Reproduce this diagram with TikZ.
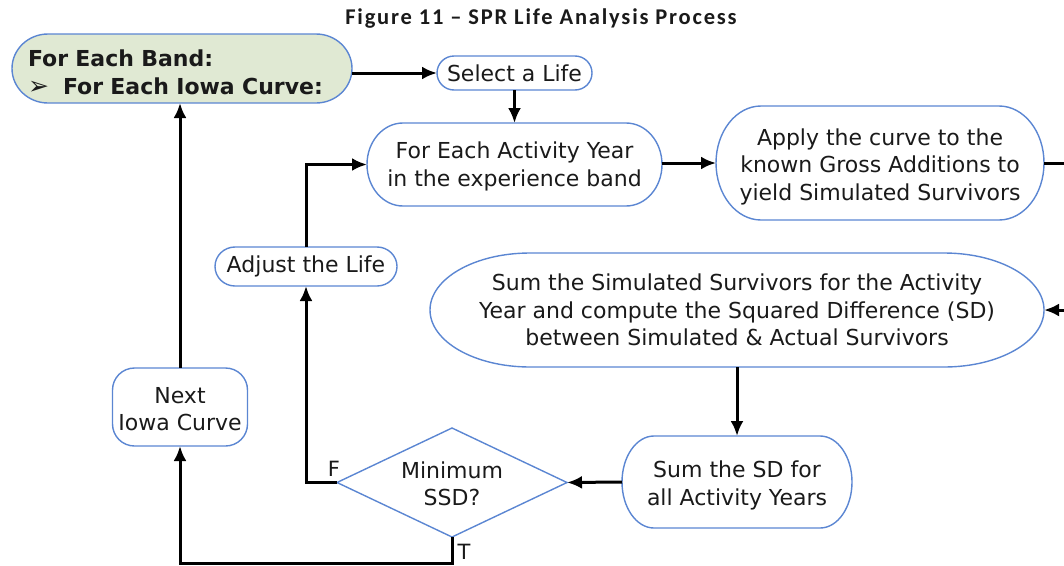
\documentclass[tikz,border=0pt]{standalone}
\usepackage{fontspec}
\setmainfont{DejaVu Sans}
\newfontfamily\titlefont[LetterSpace=8]{Carlito}
\usetikzlibrary{arrows.meta,shapes.geometric,backgrounds}
\definecolor{bord}{HTML}{5B86D2}
\definecolor{bandfill}{HTML}{E0E9D3}
\definecolor{txt}{HTML}{1A1A1A}
\newcommand\ovl[4][]{%
  \draw[shp,#1] ([xshift=#3]#2.north west) -- ([xshift=-#3]#2.north east)
    arc[start angle=90,end angle=-90,x radius=#3,y radius=#4]
    -- ([xshift=#3]#2.south west)
    arc[start angle=270,end angle=90,x radius=#3,y radius=#4] -- cycle;}
\newcommand\up[1]{\rule{0pt}{#1}}
\begin{document}
\begin{tikzpicture}[x=1pt,y=1pt,
  shp/.style={draw=bord, line width=1.4pt},
  box/.style={inner sep=0pt, outer sep=0pt, align=center, text=txt,
    font=\fontsize{22}{27.5}\selectfont},
  conn/.style={line width=3pt, black},
  arr/.style={conn, -{Latex[length=15pt,width=13pt]}},
  lbl/.style={text=txt, font=\fontsize{21}{21}\selectfont, inner sep=0pt, anchor=base}]
\useasboundingbox (0,0) rectangle (1064,-565);
\node[font=\titlefont\bfseries\fontsize{22.5}{24}\selectfont, text=txt] (title) at (541,-19) {Figure 11 – SPR Life Analysis Process};

\node[box, align=left, text width=308pt, inner xsep=16pt, minimum height=69pt,
  font=\bfseries\fontsize{22}{28}\selectfont] (band) at (182,-68.5)
  {\up{25pt}For Each Band:\\\makebox[35pt][l]{\fontsize{25}{25}\selectfont ➢}For Each Iowa Curve:};
\node[box, minimum width=155pt, minimum height=34pt] (sel) at (514.5,-73) {Select a Life};
\node[box, minimum width=295pt, minimum height=83pt] (fe) at (514.5,-164.5) {\up{21pt}For Each Activity Year\\in the experience band};
\node[box, minimum width=328pt, minimum height=114pt] (app) at (880,-163) {\up{24pt}Apply the curve to the\\known Gross Additions to\\yield Simulated Survivors};
\node[box, minimum width=614pt, minimum height=114pt] (sum) at (737,-310) {Sum the Simulated Survivors for the Activity\\Year and compute the Squared Difference (SD)\\between Simulated \& Actual Survivors};
\node[box, minimum width=182pt, minimum height=39pt] (adj) at (306,-266.5) {Adjust the Life};
\node[box, draw=bord, line width=1.4pt, rounded corners=22pt, minimum width=135pt, minimum height=78pt] (next) at (180,-407) {\up{20pt}Next\\Iowa Curve};
\node[box, diamond, draw=bord, line width=1.4pt, aspect=2.1, minimum width=230pt, minimum height=109pt] (dia) at (452,-482.5) {\up{19pt}Minimum\\SSD?};
\node[box, minimum width=230pt, minimum height=92pt] (ssd) at (737,-482) {\up{24pt}Sum the SD for\\all Activity Years};

\begin{scope}[on background layer]
\ovl[fill=bandfill]{band}{36pt}{34.5pt}
\ovl{sel}{17pt}{17pt}
\ovl{fe}{36pt}{41.5pt}
\ovl{app}{45pt}{57pt}
\ovl{sum}{100pt}{57pt}
\ovl{adj}{20pt}{19.5pt}
\ovl{ssd}{32pt}{46pt}
\end{scope}

\coordinate (r1) at (1064,-163);
\coordinate (r2) at (1064,-310);
\coordinate (bot) at (452,-563);

\draw[arr] (band.east |- sel.west) -- (sel.west);
\draw[arr] (sel.south) -- (fe.north);
\draw[arr] (fe.east |- app.west) -- (app.west);
\draw[conn] (app.east) -- (r1);
\draw[arr] (r2) -- (sum.east);
\draw[arr] (sum.south) -- (ssd.north);
\draw[arr] (ssd.west) -- (dia.east);
\draw[arr] (dia.west) -| (adj.south);
\draw[arr] (adj.north) |- (fe.west);
\draw[arr] (dia.south) -- (bot) -| (next.south);
\draw[arr] (next.north) -- (next.north |- band.south);

\node[lbl] (lf) at (334,-476) {F};
\node[lbl] (lt) at (464,-559) {T};
\end{tikzpicture}
\end{document}
